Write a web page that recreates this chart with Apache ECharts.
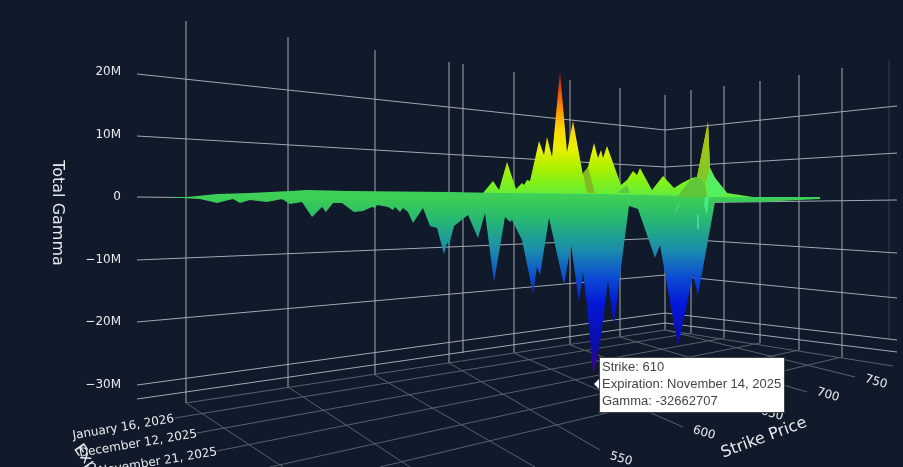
<!DOCTYPE html>
<html><head><meta charset="utf-8">
<style>html,body{margin:0;padding:0;background:#101a2a;overflow:hidden}#c{width:903px;height:467px}</style>
<script src="https://cdn.jsdelivr.net/npm/echarts@6/dist/echarts.min.js"></script>
</head><body><div id="c"></div>
<script>
// Tick labels
const gammaTicks = [-30, -20, -10, 0, 10, 20];
const strikeTicks = ['550', '600', '650', '700', '750'];
const expiryTicks = ['January 16, 2026', 'December 12, 2025', 'November 21, 2025'];
const hoverLines = ['Strike: 610', 'Expiration: November 14, 2025', 'Gamma: -32662707'];

// Outline of the surface as seen from the camera: view position, gamma in millions
const peakView = [470,483,493,499,507,516,522,524,527,530,539,544,547,552,560,567,573,583,588,594,598,601,603,607,621,627,633,637,640,652,663,674,682,692,697,708,710,715,727,753];
const peakGamma = [0,0.64,2.56,1.12,5.59,1.28,2.24,1.92,2.72,2.56,8.95,6.71,9.58,6.39,19.97,7.19,12.14,3.51,4.79,8.63,6.23,7.51,6.23,8.15,1.92,2.72,4.15,3.51,4.63,1.12,3.35,1.44,2.24,3.04,3.19,11.98,4.63,3.04,0.64,0];

const ridgeView = [165,187,217,250,290,307,350,450,500,600,650,680,720,820];
const ridgeGamma = [0,0,0.48,0.64,0.96,1.12,0.96,0.8,0.64,0.48,0.32,0.16,-0.16,-0.32];

const troughView = [165,200,217,233,240,250,267,282,290,302,312,322,326,333,342,354,363,372,375,377,388,393,395,400,403,408,413,423,430,437,444,447,449,454,456,468,478,485,494,505,510,512,522,533,537,540,549,564,571,579,583,587,593,600,608,614,620,629,638,655,660,678,693,698,715,760,820];
const troughGamma = [0,-0.32,-0.96,-0.32,-0.96,-0.48,-0.8,-0.32,-1.12,-0.8,-3.19,-1.6,-2.4,-0.96,-0.96,-2.4,-2.24,-1.6,-1.76,-1.28,-1.6,-2.08,-1.6,-2.4,-1.76,-2.4,-4.15,-1.76,-4.63,-4.95,-9.11,-7.35,-7.67,-4.63,-4.79,-2.88,-6.55,-2.56,-13.58,-3.19,-3.99,-3.67,-6.87,-15.34,-11.18,-12.46,-3.35,-14.06,-7.67,-16.77,-11.98,-17.25,-28.43,-23.64,-13.42,-20.45,-12.46,-1.44,-1.92,-9.74,-7.67,-23.96,-12.46,-15.65,-0.8,-0.8,-0.32];

// Facets that catch the light differently: [view position, gamma in millions]
const hillFacet = [[677,0],[690,2.72],[697,3.19],[705,2.4],[707,0]];
const spikeFacet = [[697,3.19],[708,11.98],[710,4.63],[706,2.4]];
const litFacet = [[706,2.4],[710,4.63],[715,3.04],[727,0.64],[715,0],[708,0]];
const wedgeFacet = [[583,3.83],[588,4.79],[595,0.64],[587,0.64]];
const knollFacet = [[617,0.64],[627,1.92],[630,0.64]];
const streakA = [[705,0],[709,0],[707,-2.88],[704,-1.28]];
const streakB = [[697,-2.88],[699,-2.88],[699,-5.27],[697,-4.95]];
const streakC = [[678,-1.28],[680,-1.12],[676,-2.4],[675,-2.4]];

const zip = (a, b) => a.map((v, i) => [v, b[i]]);
const vGrad = stops => new echarts.graphic.LinearGradient(0, 0, 0, 1, stops.map(([offset, color]) => ({offset, color})));

const peakFill = vGrad([[0,'#a01c08'],[0.1,'#dc3a04'],[0.3,'#ff9400'],[0.46,'#ffd800'],[0.62,'#e6f000'],[0.78,'#a8f000'],[0.9,'#7cf020'],[1,'#60ec40']]);
const troughFill = vGrad([[0,'#3ecf52'],[0.12,'#28ba70'],[0.3,'#1a8cac'],[0.45,'#0c4cd2'],[0.6,'#0418d8'],[0.83,'#0c0ca8'],[1,'#450088']]);

function areaSeries(name, view, gamma, fill) {
  return {name, type:'line', data: zip(view, gamma), showSymbol:false, symbol:'none', silent:true,
    lineStyle:{width:0}, areaStyle:{color:fill, opacity:1, origin:0}, animation:false, z:3};
}
function facetSeries(name, pts, fill) {
  return {name, type:'custom', data:[0], silent:true, animation:false, z:4, clip:false,
    renderItem:(p, api) => ({type:'polygon', shape:{points:pts.map(q => api.coord(q))}, style:{fill}})};
}

// Wireframe of the 3D box (scenery, not data)
const wall = '#a3a9b1', floor = '#59606d';
const wires = [];
const seg = (pts, stroke) => { wires.push({type:'polyline', z:-1, silent:true, shape:{points:pts}, style:{stroke, lineWidth:1, fill:null}}); };
[[186,21,403],[288,37,387],[375,50,375],[449,62,363],[463,64,353],[514,72,353],[570,80,345],[620,88,337],[665,95,330],[691,90,333],[724,86,338],[760,81,343],[799,75,350],[842,68,357]]
  .forEach(([x,a,b]) => seg([[x,a],[x,b]], wall));
seg([[889,60],[889,340]], '#333b47');
[[74,130,106],[136,167,153],[197,203,200],[260,238,253],[322,275,298],[385,313,340],[399,323,352]]
  .forEach(([a,b,c]) => seg([[137,a],[665,b],[897,c]], wall));
seg([[186,403],[665,330],[893,366]], floor);
[[[186,403],[283,467]],[[288,387],[410,467]],[[375,375],[535,467]],[[449,363],[600,450]],[[514,353],[683,427]],[[570,345],[745,408]],[[620,337],[807,392]],[[665,330],[855,377]],
 [[691,333],[175,418]],[[724,338],[197,433]],[[760,343],[217,451]],[[799,350],[270,467]],[[842,357],[380,467]]]
  .forEach(s => seg(s, floor));

const txt = (text, x, y, size, deg, align) => ({type:'text', z:5, silent:true, x, y, rotation:deg*Math.PI/180,
  style:{text, fill:'#e8eaec', font:size+'px "DejaVu Sans"', align:align||'center', verticalAlign:'middle'}});

const labels = [
  txt('Total Gamma', 57, 213, 16, -90),
  txt('Strike Price', 764, 438, 16, 20.5),
  txt('Expiration', 77, 446, 16, -55, 'left'),
  txt(expiryTicks[0], 174, 419, 12, 9.5, 'right'),
  txt(expiryTicks[1], 197, 434, 12, 9.5, 'right'),
  txt(expiryTicks[2], 217, 452, 12, 9.5, 'right')
];
[[621,459],[704,433],[772,414],[828,395],[876,382]].forEach(([x,y], i) => labels.push(txt(strikeTicks[i], x, y, 12, -16)));

const hover = [
  {type:'polygon', z:20, silent:true, shape:{points:[[594,384],[600,378],[600,390]]}, style:{fill:'#fff'}},
  {type:'rect', z:21, silent:true, shape:{x:599.5,y:357.5,width:185,height:55}, style:{fill:'#fff', stroke:'#444', lineWidth:1}}
];
hoverLines.forEach((t, i) => hover.push({type:'text', z:22, silent:true, x:602, y:367+i*17,
  style:{text:t, fill:'#444', font:'13px "Liberation Sans"', align:'left', verticalAlign:'middle'}}));

const chart = echarts.init(document.getElementById('c'), null, {renderer:'canvas'});
chart.setOption({
  animation:false,
  backgroundColor:'#101a2a',
  grid:{left:127, right:0, top:9.2, height:438.2, containLabel:false},
  xAxis:{type:'value', min:127, max:903, show:false},
  yAxis:{type:'value', min:-40, max:30, interval:10,
    axisLine:{show:false}, axisTick:{show:false}, splitLine:{show:false},
    axisLabel:{margin:6, color:'#e8eaec', fontFamily:'DejaVu Sans', fontSize:12,
      formatter:v => !gammaTicks.includes(v) ? '' : v === 0 ? '0' : (v < 0 ? '\u2212' : '') + Math.abs(v) + 'M'}},
  graphic:{elements:[...wires, ...labels, ...hover]},
  series:[
    areaSeries('Peaks', peakView, peakGamma, peakFill),
    areaSeries('Troughs', troughView, troughGamma, troughFill),
    areaSeries('Ridge', ridgeView, ridgeGamma, '#3ecf5a'),
    facetSeries('Hill', hillFacet, '#5fc63a'),
    facetSeries('Spike', spikeFacet, vGrad([[0,'#b4c400'],[1,'#7cc830']])),
    facetSeries('Lit', litFacet, '#55f060'),
    facetSeries('Wedge', wedgeFacet, '#80bb20'),
    facetSeries('Knoll', knollFacet, '#60c840'),
    facetSeries('StreakA', streakA, '#48e888'),
    facetSeries('StreakB', streakB, '#50d0a0'),
    facetSeries('StreakC', streakC, '#60d890')
  ]
});
</script></body></html>
